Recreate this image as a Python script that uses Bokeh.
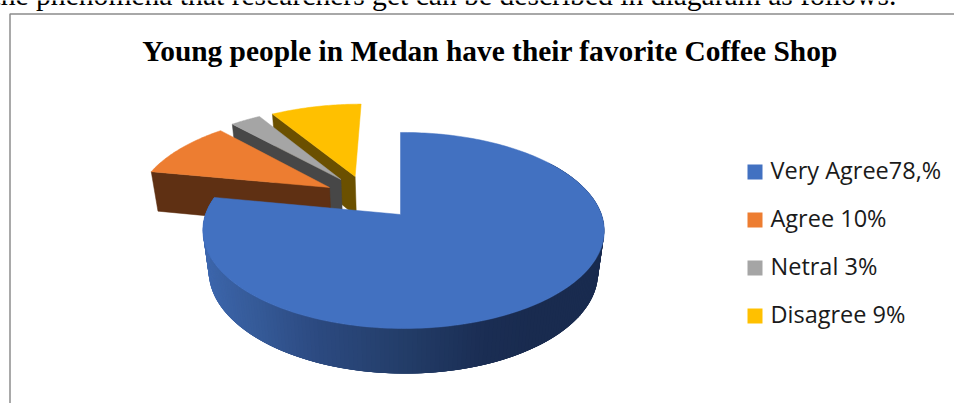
import numpy as np
from bokeh.core.properties import value
from bokeh.embed import file_html
from bokeh.models import Range1d
from bokeh.plotting import figure
from bokeh.resources import INLINE

# Survey shares, in percent
categories = ["Very Agree78,%", "Agree 10%", "Netral 3%", "Disagree 9%"]
shares = [78, 10, 3, 9]

top_colors = ["#4271C1", "#ED7D31", "#A5A5A5", "#FFC000"]
wall_colors = ["#1F3864", "#5F3013", "#474747", "#6B5000"]

title = "Young people in Medan have their favorite Coffee Shop"
lead_in = "the phenomena that researchers get can be described in diagaram as follows."

# How far each slice is pulled out of the pie, on the pie's unit circle
explode_u = [0.0, -0.376, -0.32, -0.245]
explode_v = [0.0, -0.297, -0.39, -0.426]

# Perspective camera for the tilted pie
APEX_X, APEX_Y = 400.0, 214.0
SCALE_U, SCALE_V, SCALE_Z = 198.0, 95.4, 42.5
PERSP_V, PERSP_Z = 0.163, 0.03
MAIN_SKEW = 0.015

# Offset from the wanted baseline to the y given to a text glyph
TEXT_SHIFT = 9.5


def project(u, v, z=0.0, skew=0.0):
    w = 1.0 - PERSP_V * v + PERSP_Z * z - skew * u
    return APEX_X + SCALE_U * u / w, APEX_Y + (SCALE_V * v + SCALE_Z * z) / w


def ring(theta):
    # Clockwise from twelve o'clock; v grows toward the viewer
    return np.sin(theta), -np.cos(theta)


def rim_color(x):
    stops = [150, 205, 270, 330, 400, 470, 520, 700]
    r = [64, 62, 54, 44, 36, 27, 25, 25]
    g = [108, 104, 91, 74, 62, 46, 43, 43]
    b = [182, 175, 153, 128, 106, 84, 79, 79]
    return "#%02x%02x%02x" % (
        int(np.interp(x, stops, r)),
        int(np.interp(x, stops, g)),
        int(np.interp(x, stops, b)),
    )


p = figure(
    width=954,
    height=403,
    x_range=Range1d(0, 954),
    y_range=Range1d(403, 0),
    output_backend="svg",
    toolbar_location=None,
    min_border=0,
    outline_line_color=None,
    background_fill_color="white",
    border_fill_color="white",
)
p.axis.visible = False
p.grid.visible = False

# Chart frame, open to the window's right and bottom edges
p.line([9.5, 9.5, 954], [403, 13.5, 13.5], line_color="#8C8C8C", line_width=1.5)

edges = np.cumsum([0] + shares) / sum(shares) * 2 * np.pi

# Pulled-out slices, back to front: their visible wall and their top face
for i in [3, 2, 1]:
    u0, v0 = explode_u[i], explode_v[i]
    start, end = edges[i], edges[i + 1]
    su, sv = ring(start)
    wall = [project(u0, v0), project(u0 + su, v0 + sv),
            project(u0 + su, v0 + sv, 1), project(u0, v0, 1)]
    p.patch([q[0] for q in wall], [q[1] for q in wall],
            fill_color=wall_colors[i], line_color=wall_colors[i], line_width=0.5)
    theta = np.linspace(start, end, 40)
    au, av = ring(theta)
    xs, ys = project(u0 + au, v0 + av)
    x0, y0 = project(u0, v0)
    p.patch([x0, *xs], [y0, *ys], fill_color=top_colors[i],
            line_color=top_colors[i], line_width=0.5)

# Rim of the large slice, shaded from right to left; every strip runs on under
# the one painted after it so that no seams show
rim = np.linspace(np.pi * 0.3, edges[1], 200)
for a, b in zip(rim[:-1], rim[1:]):
    reach = min(b + (b - a) * 3, edges[1])
    ua, va = ring(a)
    ub, vb = ring(reach)
    mid_u, _ = ring((a + b) / 2)
    qa = project(ua, va, 0, MAIN_SKEW)
    qb = project(ub, vb, 0, MAIN_SKEW)
    qc = project(ub, vb, 1, MAIN_SKEW)
    qd = project(ua, va, 1, MAIN_SKEW)
    c = rim_color(APEX_X + SCALE_U * mid_u)
    p.patch([qa[0], qb[0], qc[0], qd[0]], [qa[1], qb[1], qc[1], qd[1]],
            fill_color=c, line_color=None)

# Top face of the large slice
theta = np.linspace(edges[0], edges[1], 240)
au, av = ring(theta)
xs, ys = project(au, av, 0, MAIN_SKEW)
p.patch([APEX_X, *xs], [APEX_Y, *ys], fill_color=top_colors[0],
        line_color=top_colors[0], line_width=0.5)

# Legend
rows = [164, 212, 260, 308]
p.rect([754.5] * 4, [r + 7.5 for r in rows], width=15, height=15,
       fill_color=top_colors, line_color=None)
p.text([770] * 4, [r + 15 - TEXT_SHIFT for r in rows], text=categories,
       text_font=value("Open Sans"), text_font_size="23.5px",
       text_color="#1a1a1a", text_baseline="alphabetic")

# Chart title and the clipped line of running text above the frame
p.text([489.5], [60 - TEXT_SHIFT], text=[title], text_font=value("Liberation Serif"),
       text_font_style="bold", text_font_size="29.4px", text_color="black",
       text_align="center", text_baseline="alphabetic")
p.text([-8], [3.5 - TEXT_SHIFT], text=[lead_in], text_font=value("Liberation Serif"),
       text_font_size="29.6px", text_color="black", text_baseline="alphabetic")

open("out.html", "w").write(file_html(p, INLINE))
